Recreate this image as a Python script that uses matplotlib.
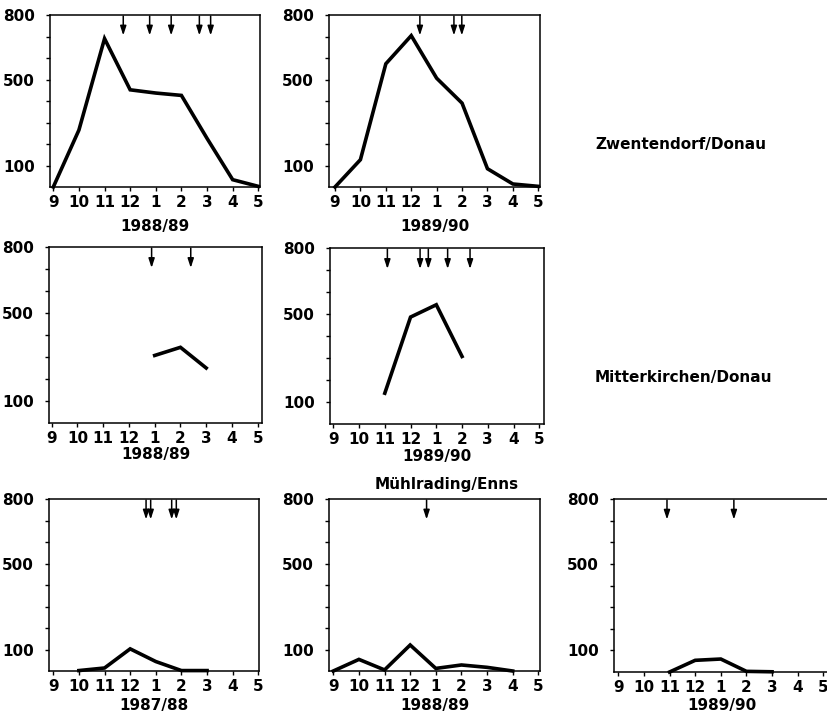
import numpy as np
import matplotlib
matplotlib.use("Agg")
import matplotlib.pyplot as plt

plt.rcParams['font.family'] = ['DejaVu Sans']
plt.rcParams['font.weight'] = 'bold'

W, H = 827, 719

months = ['9', '10', '11', '12', '1', '2', '3', '4', '5']
nan = np.nan

# Values (0-800 scale) per month index
zw_8889 = [0, 265, 690, 452, 437, 426, 226, 34, 3]
zw_8990 = [0, 127, 573, 704, 506, 390, 85, 14, 3]
mi_8889 = [nan, nan, nan, nan, 307, 344, 250, nan, nan]
mi_8990 = [nan, nan, 140, 486, 542, 307, nan, nan, nan]
mu_8788 = [nan, 2, 14, 103, 44, 2, 2, nan, nan]
mu_8889 = [0, 54, 5, 121, 12, 28, 17, 0, nan]
mu_8990 = [nan, nan, 0, 54, 60, 3, 1, nan, nan]

# Arrow positions (in month-index units)
ar_zw_8889 = [2.73, 3.76, 4.60, 5.70, 6.14]
ar_zw_8990 = [3.34, 4.68, 4.99]
ar_mi_8889 = [3.88, 5.40]
ar_mi_8990 = [2.10, 3.37, 3.69, 4.44, 5.31]
ar_mu_8788 = [3.62, 3.80, 4.62, 4.80]
ar_mu_8889 = [3.64]
ar_mu_8990 = [1.90, 4.51]

years = ['1988/89', '1989/90', '1988/89', '1989/90', '1987/88', '1988/89', '1989/90']

# panel layout in pixels: left, right, top, bottom, x of '9', x of '5', xlabel pad
panels = [
    (zw_8889, ar_zw_8889, years[0], (50, 260, 15, 187, 53.3, 258.3, 6.0)),
    (zw_8990, ar_zw_8990, years[1], (329, 540, 15, 187, 335.0, 538.3, 6.0)),
    (mi_8889, ar_mi_8889, years[2], (49, 262, 247, 423, 51.7, 257.7, 0.5)),
    (mi_8990, ar_mi_8990, years[3], (330, 544, 248, 424, 333.3, 539.3, 1.0)),
    (mu_8788, ar_mu_8788, years[4], (49, 259, 499, 671, 53.3, 258.3, 2.5)),
    (mu_8889, ar_mu_8889, years[5], (329, 540, 499, 671, 333.3, 538.3, 2.5)),
    (mu_8990, ar_mu_8990, years[6], (614, 830, 499, 672, 618.3, 823.3, 2.0)),
]

FS = 11

fig = plt.figure(figsize=(W / 100, H / 100), dpi=100)

for vals, arrows, year, (l, r, t, b, x9, x5, pad) in panels:
    ax = fig.add_axes([l / W, 1 - b / H, (r - l) / W, (b - t) / H])
    sp = (x5 - x9) / 8
    ax.set_xlim((l - x9) / sp, (r - x9) / sp)
    ax.set_ylim(0, 800)
    x = np.arange(len(months))
    ax.plot(x, vals, color='black', lw=2.6, solid_joinstyle='miter', clip_on=False)
    for a in arrows:
        ax.annotate('', xy=(a, 705), xytext=(a, 795),
                    arrowprops=dict(arrowstyle='-|>,head_length=0.55,head_width=0.18',
                                    color='black', lw=1.1, shrinkA=0, shrinkB=0))
    ax.set_xticks(x)
    ax.set_xticklabels(months, fontsize=FS, fontweight='bold')
    ax.set_yticks([100, 500, 800])
    ax.set_yticklabels(['100', '500', '800'], fontsize=FS, fontweight='bold')
    ax.set_yticks([200, 300, 400, 600, 700], minor=True)
    ax.tick_params(axis='both', which='both', direction='out', length=3, width=1)
    ax.tick_params(axis='y', which='major', pad=8)
    ax.tick_params(axis='x', which='major', pad=3)
    ax.set_xlabel(year, fontsize=FS, fontweight='bold', labelpad=pad)
    for s in ax.spines.values():
        s.set_linewidth(1.1)

fig.text(595 / W, 1 - 145 / H, 'Zwentendorf/Donau', fontsize=FS, fontweight='bold',
         ha='left', va='center')
fig.text(595 / W, 1 - 378 / H, 'Mitterkirchen/Donau', fontsize=FS, fontweight='bold',
         ha='left', va='center')
fig.text(447 / W, 1 - 485 / H, 'Mühlrading/Enns', fontsize=FS, fontweight='bold',
         ha='center', va='center')

fig.savefig('out.png', dpi=100)
